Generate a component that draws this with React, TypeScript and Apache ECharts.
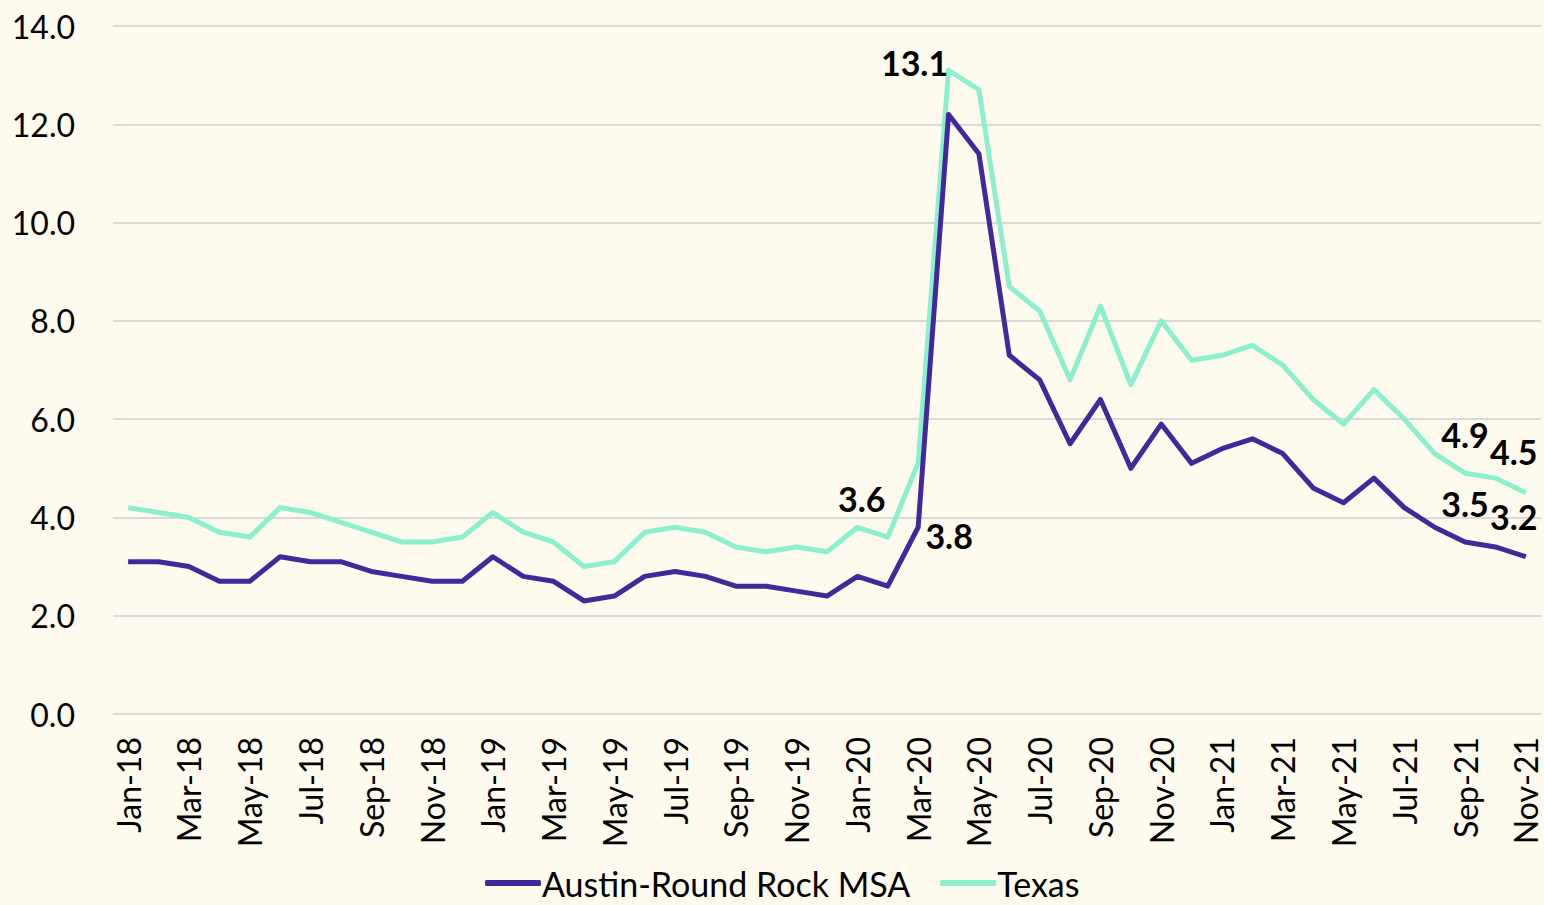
import React, { useEffect, useRef } from "react";
import * as echarts from "echarts";

const months = [
  "Jan-18","Feb-18","Mar-18","Apr-18","May-18","Jun-18","Jul-18","Aug-18","Sep-18","Oct-18","Nov-18","Dec-18",
  "Jan-19","Feb-19","Mar-19","Apr-19","May-19","Jun-19","Jul-19","Aug-19","Sep-19","Oct-19","Nov-19","Dec-19",
  "Jan-20","Feb-20","Mar-20","Apr-20","May-20","Jun-20","Jul-20","Aug-20","Sep-20","Oct-20","Nov-20","Dec-20",
  "Jan-21","Feb-21","Mar-21","Apr-21","May-21","Jun-21","Jul-21","Aug-21","Sep-21","Oct-21","Nov-21",
];

const austin = [
  3.1, 3.1, 3.0, 2.7, 2.7, 3.2, 3.1, 3.1, 2.9, 2.8, 2.7, 2.7,
  3.2, 2.8, 2.7, 2.3, 2.4, 2.8, 2.9, 2.8, 2.6, 2.6, 2.5, 2.4,
  2.8, 2.6, 3.8, 12.2, 11.4, 7.3, 6.8, 5.5, 6.4, 5.0, 5.9, 5.1,
  5.4, 5.6, 5.3, 4.6, 4.3, 4.8, 4.2, 3.8, 3.5, 3.4, 3.2,
];

const texas = [
  4.2, 4.1, 4.0, 3.7, 3.6, 4.2, 4.1, 3.9, 3.7, 3.5, 3.5, 3.6,
  4.1, 3.7, 3.5, 3.0, 3.1, 3.7, 3.8, 3.7, 3.4, 3.3, 3.4, 3.3,
  3.8, 3.6, 5.1, 13.1, 12.7, 8.7, 8.2, 6.8, 8.3, 6.7, 8.0, 7.2,
  7.3, 7.5, 7.1, 6.4, 5.9, 6.6, 6.0, 5.3, 4.9, 4.8, 4.5,
];

// labelled points: index -> label offset
const austinLabels: Record<number, [number, number]> = {
  26: [31, 8],
  44: [0, -39],
  46: [-12, -40],
};
const texasLabels: Record<number, [number, number]> = {
  25: [-26, -39],
  27: [-34, -8],
  44: [0, -39],
  46: [-12, -41],
};

const FONT = "Lato";
const PURPLE = "#41299A";
const TEAL = "#8CF0CE";

function buildData(values: number[], labels: Record<number, [number, number]>) {
  return values.map((v, i) => {
    const off = labels[i];
    if (!off) return v;
    return {
      value: v,
      label: {
        show: true,
        position: "inside",
        offset: off,
        formatter: (p: any) => Number(p.value).toFixed(1),
        fontFamily: FONT,
        fontWeight: "bold",
        fontSize: 34,
        color: "#000",
      },
    };
  });
}

export default function App() {
  const ref = useRef<HTMLDivElement>(null);
  useEffect(() => {
    if (!ref.current) return;
    const chart = echarts.init(ref.current, null, { renderer: "svg" });
    chart.setOption({
      animation: false,
      backgroundColor: "#FEFAEE",
      textStyle: { fontFamily: FONT },
      grid: { left: 113, right: 3, top: 26, bottom: 191, containLabel: false, outerBoundsMode: "none" },
      legend: {
        bottom: 0,
        left: 480,
        icon: "roundRect",
        itemWidth: 56,
        itemHeight: 6,
        itemGap: 30,
        textStyle: { fontFamily: FONT, fontSize: 34, color: "#000", padding: [0, 0, 0, -4] },
        data: ["Austin-Round Rock MSA", "Texas"],
      },
      xAxis: {
        type: "category",
        data: months,
        boundaryGap: true,
        axisLine: { show: false },
        axisTick: { show: false },
        axisLabel: {
          interval: 1,
          rotate: 90,
          margin: 23,
          fontFamily: FONT,
          fontSize: 32,
          lineHeight: 22,
          color: "#000",
        },
      },
      yAxis: {
        type: "value",
        min: 0,
        max: 14,
        interval: 2,
        axisLine: { show: false },
        axisTick: { show: false },
        splitLine: { lineStyle: { color: "#D9D9D9", width: 2 } },
        axisLabel: {
          margin: 38,
          fontFamily: FONT,
          fontSize: 32,
          color: "#000",
          formatter: (v: number) => v.toFixed(1),
        },
      },
      series: [
        {
          name: "Austin-Round Rock MSA",
          type: "line",
          data: buildData(austin, austinLabels),
          showSymbol: true,
          symbol: "circle",
          symbolSize: 1,
          itemStyle: { color: PURPLE },
          lineStyle: { color: PURPLE, width: 5, join: "round" },
          z: 3,
        },
        {
          name: "Texas",
          type: "line",
          data: buildData(texas, texasLabels),
          showSymbol: true,
          symbol: "circle",
          symbolSize: 1,
          itemStyle: { color: TEAL },
          lineStyle: { color: TEAL, width: 5, join: "round" },
          z: 2,
        },
      ],
    });
    return () => chart.dispose();
  }, []);
  return (
    <div
      ref={ref}
      style={{ position: "fixed", left: 0, top: 0, width: 1544, height: 905 }}
    />
  );
}
